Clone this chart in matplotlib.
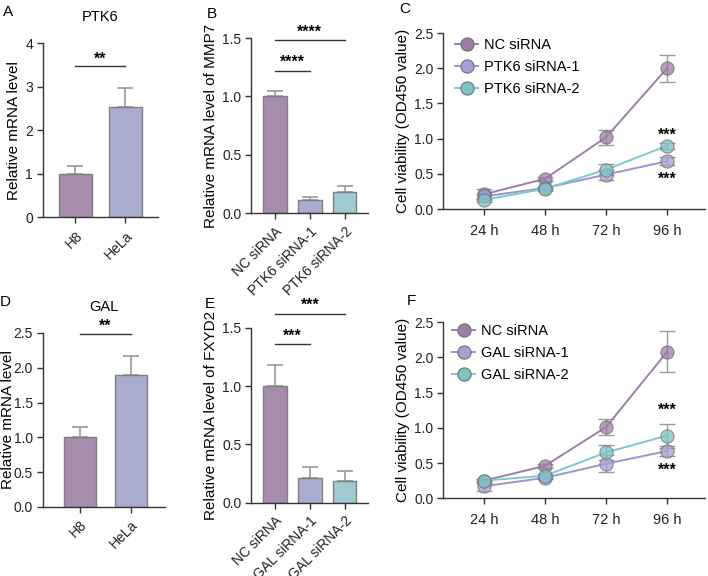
import matplotlib
matplotlib.use("Agg")
import matplotlib.pyplot as plt
import matplotlib.transforms as mtrans
import numpy as np

plt.rcParams['font.family'] = ['Liberation Sans', 'DejaVu Sans']
plt.rcParams['font.size'] = 10

# ---------------- data ----------------
cells = ["H8", "HeLa"]
ptk6_mean = [1.0, 2.53]
ptk6_err = [0.17, 0.45]
gal_mean = [1.0, 1.89]
gal_err = [0.15, 0.28]

b_groups = ["NC siRNA", "PTK6 siRNA-1", "PTK6 siRNA-2"]
mmp7_mean = [1.0, 0.115, 0.18]
mmp7_err = [0.045, 0.025, 0.055]

e_groups = ["NC siRNA", "GAL siRNA-1", "GAL siRNA-2"]
fxyd2_mean = [1.0, 0.21, 0.183]
fxyd2_err = [0.18, 0.095, 0.09]

times = ["24 h", "48 h", "72 h", "96 h"]
c_series = ["NC siRNA", "PTK6 siRNA-1", "PTK6 siRNA-2"]
c_nc = [0.21, 0.43, 1.02, 2.00]
c_nc_err = [0.08, 0.03, 0.11, 0.19]
c_s1 = [0.18, 0.30, 0.49, 0.68]
c_s1_err = [0.04, 0.02, 0.07, 0.06]
c_s2 = [0.13, 0.29, 0.56, 0.90]
c_s2_err = [0.03, 0.03, 0.08, 0.04]

f_series = ["NC siRNA", "GAL siRNA-1", "GAL siRNA-2"]
f_nc = [0.25, 0.46, 1.01, 2.08]
f_nc_err = [0.03, 0.03, 0.11, 0.29]
f_s1 = [0.17, 0.29, 0.49, 0.67]
f_s1_err = [0.07, 0.02, 0.12, 0.07]
f_s2 = [0.25, 0.32, 0.65, 0.89]
f_s2_err = [0.03, 0.03, 0.10, 0.17]

# ---------------- style ----------------
bar_cols = ["#A58DAB", "#A9ABCF", "#9ECAD0"]
line_cols = ["#9B7FAB", "#9A95D0", "#7CC8CC"]
mark_cols = ["#9C7DA5", "#A2A2D4", "#7CC4C8"]
err_col = "#9A9A9A"
edge_col = "#7F7F7F"

fig = plt.figure(figsize=(7.08, 5.76), dpi=100)


def style_axis(ax):
    for s in ["top", "right"]:
        ax.spines[s].set_visible(False)
    for s in ["left", "bottom"]:
        ax.spines[s].set_color("#333333")
        ax.spines[s].set_linewidth(1.0)
    ax.tick_params(colors="#333333", labelcolor="#222222", width=1.0, length=4.5, labelsize=10)
    ax.tick_params(axis="y", pad=2.5)


def place_ylabel(ax, xpix):
    tr = mtrans.blended_transform_factory(fig.transFigure, ax.transAxes)
    ax.yaxis.set_label_coords(xpix / 708.0, 0.5, transform=tr)


def bar_panel(rect, labels, means, errs, cols, ylim, yticks, yfmt, ylabel, xlim, width, lab_x):
    ax = fig.add_axes(rect)
    x = np.arange(len(labels))
    ax.bar(x, means, width=width, color=cols, edgecolor=edge_col, linewidth=1.0, zorder=2)
    ax.errorbar(x, means, yerr=[np.zeros(len(means)), errs], fmt="none",
                ecolor=err_col, elinewidth=1.2, capsize=6, capthick=1.2, zorder=1)
    ax.set_xlim(*xlim)
    ax.set_ylim(*ylim)
    ax.set_yticks(yticks)
    ax.set_yticklabels([yfmt.format(v) for v in yticks])
    ax.set_xticks(x)
    ax.set_xticklabels(labels, rotation=45, ha="right", rotation_mode="anchor")
    ax.set_ylabel(ylabel, fontsize=11, va="center")
    place_ylabel(ax, lab_x)
    style_axis(ax)
    return ax


def sig(ax, x0, x1, y, ystar, txt):
    ax.plot([x0, x1], [y, y], color="#333333", lw=1.0, clip_on=False)
    ax.text((x0 + x1) / 2, ystar, txt, ha="center", va="center", fontsize=11.5,
            fontweight="bold", clip_on=False)


# Panel A
axA = bar_panel([0.0603, 0.623, 0.163, 0.302], cells, ptk6_mean, ptk6_err, bar_cols[:2],
                (0, 4), [0, 1, 2, 3, 4], "{:.0f}", "Relative mRNA level", (-0.65, 1.66), 0.66, 14)
sig(axA, 0, 1, 3.47, 3.64, "**")
axA.set_title("PTK6", fontsize=10.5, pad=16)

# Panel D
axD = bar_panel([0.0603, 0.120, 0.173, 0.302], cells, gal_mean, gal_err, bar_cols[:2],
                (0, 2.5), [0, 0.5, 1.0, 1.5, 2.0, 2.5], "{:.1f}", "Relative mRNA level", (-0.73, 1.67), 0.64, 8)
sig(axD, 0, 1, 2.49, 2.60, "**")
axD.set_title("GAL", fontsize=10.5, pad=16)

# Panel B
axB = bar_panel([0.3545, 0.630, 0.165, 0.304], b_groups, mmp7_mean, mmp7_err, bar_cols,
                (0, 1.5), [0, 0.5, 1.0, 1.5], "{:.1f}", "Relative mRNA level of MMP7", (-0.69, 2.66), 0.67, 211)
sig(axB, 0, 1, 1.22, 1.29, "****")
sig(axB, 0, 2, 1.48, 1.55, "****")

# Panel E
axE = bar_panel([0.3545, 0.127, 0.165, 0.304], e_groups, fxyd2_mean, fxyd2_err, bar_cols,
                (0, 1.5), [0, 0.5, 1.0, 1.5], "{:.1f}", "Relative mRNA level of FXYD2", (-0.69, 2.66), 0.67, 211)
sig(axE, 0, 1, 1.36, 1.43, "***")
sig(axE, 0, 2, 1.62, 1.69, "***")


def line_panel(rect, names, data, errs, star_hi, star_lo, leg_x, leg_y):
    ax = fig.add_axes(rect)
    x = np.arange(len(times))
    for i, (name, y, e) in enumerate(zip(names, data, errs)):
        ax.errorbar(x, y, yerr=e, fmt="none", ecolor=err_col, elinewidth=1.0,
                    capsize=6, capthick=1.0, zorder=2)
        ax.plot(x, y, "-", color=line_cols[i], lw=1.4, zorder=3)
        ax.plot(x, y, "o", color=mark_cols[i], markersize=9.5, markeredgecolor="#6F6F6F",
                markeredgewidth=0.8, alpha=0.75, zorder=4)
        ax.plot([], [], "-o", color=line_cols[i], markerfacecolor=mark_cols[i],
                markeredgecolor="#6F6F6F", markeredgewidth=0.8, markersize=9.5, lw=1.4,
                label=name)
    ax.set_xlim(-0.67, 3.62)
    ax.set_ylim(0, 2.5)
    ax.set_yticks([0, 0.5, 1.0, 1.5, 2.0, 2.5])
    ax.set_yticklabels(["{:.1f}".format(v) for v in [0, 0.5, 1.0, 1.5, 2.0, 2.5]])
    ax.set_xticks(x)
    ax.set_xticklabels(times)
    ax.set_ylabel("Cell viability (OD450 value)", fontsize=11, va="center")
    place_ylabel(ax, 403)
    style_axis(ax)
    ax.tick_params(axis="x", pad=6, labelsize=10.5)
    ax.text(3, star_hi, "***", ha="center", va="center", fontsize=11.5, fontweight="bold")
    ax.text(3, star_lo, "***", ha="center", va="center", fontsize=11.5, fontweight="bold")
    ax.legend(loc="upper left", bbox_to_anchor=(leg_x, leg_y), frameon=False, fontsize=10.5,
              handlelength=1.6, labelspacing=0.55, handletextpad=0.4,
              borderaxespad=0, borderpad=0)
    return ax


axC = line_panel([0.6257, 0.637, 0.370, 0.3056], c_series, [c_nc, c_s1, c_s2],
                 [c_nc_err, c_s1_err, c_s2_err], 1.05, 0.42, 0.046, 0.97)
axF = line_panel([0.6257, 0.135, 0.370, 0.3056], f_series, [f_nc, f_s1, f_s2],
                 [f_nc_err, f_s1_err, f_s2_err], 1.25, 0.39, 0.034, 0.99)

# Panel letters
letters = [("A", 3, 5), ("B", 207, 7), ("C", 399, 2),
           ("D", 0, 295), ("E", 205, 297), ("F", 407, 294)]
for t, x, y in letters:
    fig.text(x / 708.0, 1 - y / 576.0, t, fontsize=11, ha="left", va="top")

fig.savefig("out.png", dpi=100)
